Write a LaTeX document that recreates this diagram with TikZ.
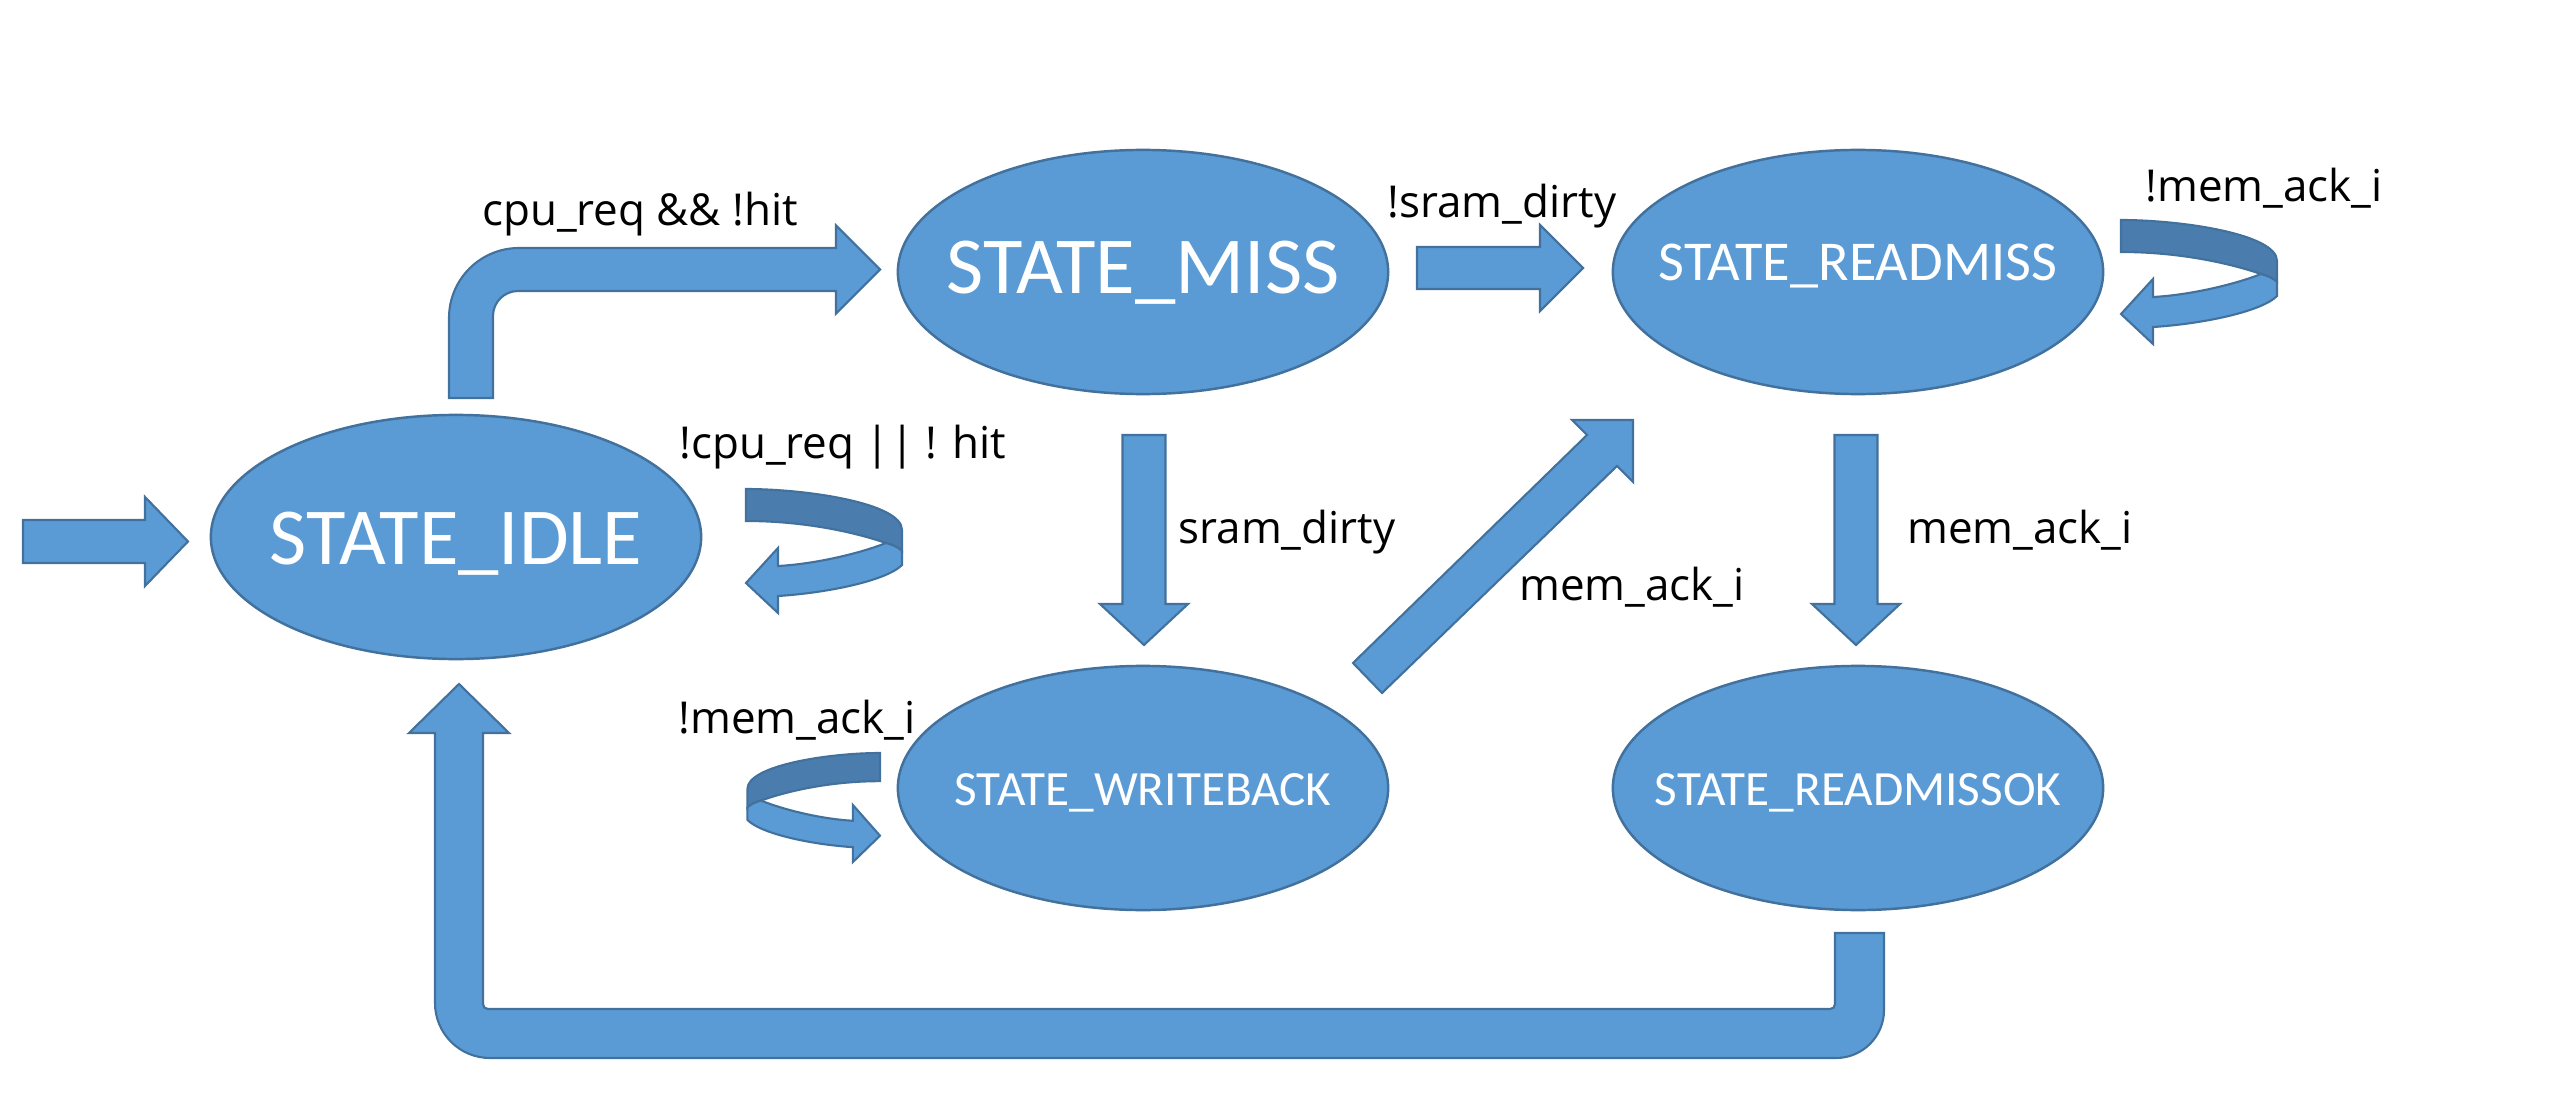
\documentclass[tikz,border=0pt]{standalone}
\usepackage{fontspec}
\setmainfont{Carlito}
\newfontfamily\labelfont{Open Sans}
\usetikzlibrary{shapes.geometric}
\definecolor{fillc}{HTML}{5B9BD5}
\definecolor{edgec}{HTML}{41719C}
\definecolor{darkc}{HTML}{4A7DAD}
\newcommand{\ctext}[1]{\makebox[0pt][c]{#1}}
\tikzset{
  state/.style={ellipse, draw=edgec, fill=fillc, line width=0.7pt,
    minimum width=4.9cm, minimum height=2.44cm, inner sep=0pt, text=white},
  blockarrow/.style={fill=fillc, draw=edgec, line width=0.6pt, line join=miter},
  looprear/.style={fill=darkc, draw=edgec, line width=0.6pt},
  loopfront/.style={fill=fillc, draw=edgec, line width=0.6pt},
  lbl/.style={font=\labelfont\fontsize{12.5pt}{15pt}\selectfont, anchor=base, inner sep=0pt},
  selfloop/.pic={
    \path[looprear] (0,0) .. controls (60,0) and (156,14) .. (156,41) -- (156,62)
      .. controls (152,58) and (147,56) .. (140,54)
      .. controls (105,42) and (55,32) .. (0,32) -- cycle;
    \path[loopfront] (140,54) .. controls (115,64) and (70,75) .. (32,77)
      -- (32,59) -- (0,94) -- (32,124) -- (32,107)
      .. controls (80,104) and (140,92) .. (156,76) -- (156,62)
      .. controls (152,58) and (147,56) .. (140,54) -- cycle;
  }
}
\begin{document}
\begin{tikzpicture}[x=0.01cm,y=-0.01cm]
\useasboundingbox[fill=white] (0,0) rectangle (2575,1094);

% states
\node[state, font=\fontsize{23pt}{27pt}\selectfont, text height=15.4pt, text depth=0pt] (idle) at (456,537) {\ctext{STATE\_IDLE}};
\node[state, font=\fontsize{23pt}{27pt}\selectfont, text height=14.8pt, text depth=2.85pt] (miss) at (1143,272) {\ctext{STATE\_MISS}};
\node[state, font=\fontsize{16pt}{19pt}\selectfont, text height=10.3pt, text depth=5.7pt] (readmiss) at (1858,272) {\ctext{STATE\_READMISS}};
\node[state, font=\fontsize{14pt}{17pt}\selectfont, text height=9.7pt, text depth=0pt] (writeback) at (1143,788) {\ctext{STATE\_WRITEBACK}};
\node[state, font=\fontsize{14pt}{17pt}\selectfont, text height=9.7pt, text depth=0pt] (readmissok) at (1858,788) {\ctext{STATE\_READMISSOK}};

% start arrow
\path[blockarrow] (23,520) -- (145,520) -- (145,497) -- (188,541.5) -- (145,586) -- (145,563) -- (23,563) -- cycle;

% idle -> miss (bent)
\path[blockarrow] (449,398) -- (449,318) .. controls (449,279.3) and (480.3,248) .. (519,248)
  -- (836,248) -- (836,225.5) -- (880,269.5) -- (836,313.5) -- (836,291) -- (518,291)
  .. controls (504.2,291) and (493,302.2) .. (493,316) -- (493,398) -- cycle;

% miss -> readmiss
\path[blockarrow] (1417,247) -- (1540,247) -- (1540,225) -- (1583,268) -- (1540,311) -- (1540,289) -- (1417,289) -- cycle;

% miss -> writeback
\path[blockarrow] (1122.5,435) -- (1122.5,604) -- (1100,604) -- (1144,645) -- (1188,604) -- (1165.5,604) -- (1165.5,435) -- cycle;

% readmiss -> readmissok
\path[blockarrow] (1834.5,435) -- (1834.5,604) -- (1812,604) -- (1856,645) -- (1900,604) -- (1877.5,604) -- (1877.5,435) -- cycle;

% writeback -> readmiss (diagonal)
\path[blockarrow] (1353,663) -- (1587,435) -- (1572,420) -- (1633,420) -- (1633,482) -- (1617,466) -- (1382,693) -- cycle;

% readmissok -> idle (return)
\path[blockarrow] (1835,933) -- (1884,933) -- (1884,1010)
  .. controls (1884,1036.5) and (1862.5,1058) .. (1836,1058)
  -- (490,1058) .. controls (459.6,1058) and (435,1033.4) .. (435,1003)
  -- (435,733) -- (409,733) -- (459,684) -- (509,733) -- (483,733)
  -- (483,1004) .. controls (483,1007) and (485,1009) .. (488,1009)
  -- (1830,1009) .. controls (1833,1009) and (1835,1007) .. (1835,1004) -- cycle;

% self loops
\pic at (746,489) {selfloop};
\pic at (2121,220) {selfloop};
\pic[xscale=-0.85, yscale=0.88] at (880,753) {selfloop};

% labels
\node[lbl] (lcpu) at (640,226) {cpu\_req \&\& !hit};
\node[lbl] (lnocpu) at (843,458) {!cpu\_req || ! hit};
\node[lbl] (lnsd) at (1502,218) {!sram\_dirty};
\node[lbl] (lnmem1) at (2264,202) {!mem\_ack\_i};
\node[lbl] (lsd) at (1287,543) {sram\_dirty};
\node[lbl] (lmem2) at (1632,600) {mem\_ack\_i};
\node[lbl] (lmem3) at (2020,543) {mem\_ack\_i};
\node[lbl] (lnmem4) at (797,733) {!mem\_ack\_i};
\end{tikzpicture}
\end{document}
